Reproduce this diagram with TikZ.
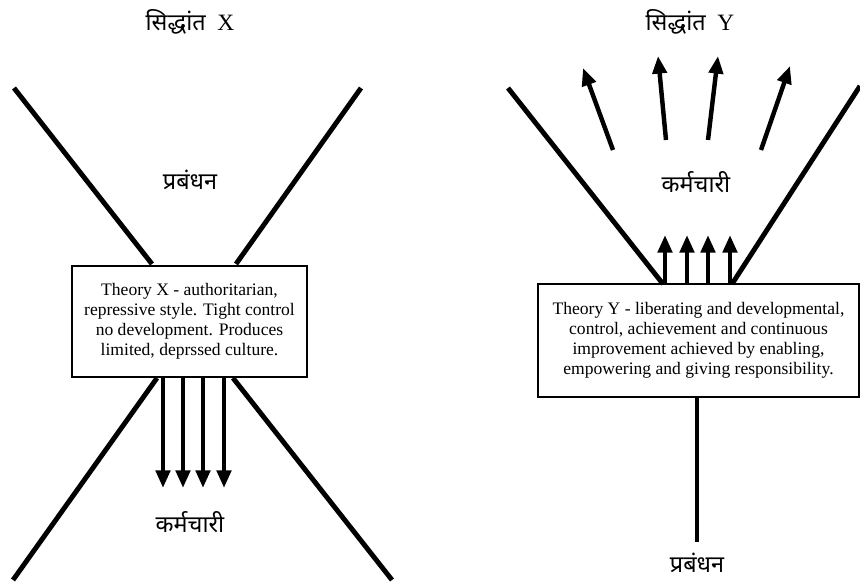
\documentclass[tikz,border=0pt]{standalone}
\usepackage{fontspec}
\setmainfont{Liberation Serif}
\newfontfamily\hindi[Script=Devanagari]{Noto Sans}
\usetikzlibrary{arrows.meta}
\tikzset{
  bar/.style={line width=4.2pt},
  arr/.style={line width=3.8pt,-{Triangle[length=15pt,width=12pt]}},
  theorybox/.style={draw,line width=1.4pt,align=center,inner sep=0pt,
    font=\fontsize{15}{17.2}\selectfont},
  title/.style={font=\fontsize{20}{22}\selectfont},
  hlabel/.style={font=\fontsize{20}{22}\selectfont\hindi},
}
\begin{document}
\begin{tikzpicture}[x=0.03cm,y=-0.03cm]
\useasboundingbox (0,0) rectangle (860,585);

% Theory X
\node[title] (tx) at (190,22) {{\hindi सिद्धांत}\enspace X};
\node[hlabel] (mx) at (190,180) {प्रबंधन};
\node[theorybox,minimum width=7.05cm,minimum height=3.33cm] (bx) at (189.5,321.5)
  {Theory X - authoritarian,\\ repressive style. Tight control\\ no development. Produces\\ limited, deprssed culture.};
\node[hlabel] (ex) at (190,522) {कर्मचारी};

\coordinate (x1) at (14,88);
\coordinate (x2) at (152,264);
\coordinate (x3) at (361,88);
\coordinate (x4) at (236,264);
\coordinate (x5) at (157,378);
\coordinate (x6) at (13,580);
\coordinate (x7) at (233,378);
\coordinate (x8) at (392,580);
\draw[bar] (x1) -- (x2);
\draw[bar] (x3) -- (x4);
\draw[bar] (x5) -- (x6);
\draw[bar] (x7) -- (x8);
\foreach \i/\xx in {1/163,2/183,3/203,4/224} {
  \coordinate (dx\i) at (\xx,488);
  \draw[arr] (bx.south -| dx\i) -- (dx\i);
}

% Theory Y
\node[title] (ty) at (690,22) {{\hindi सिद्धांत}\enspace Y};
\node[hlabel] (ey) at (696,182) {कर्मचारी};
\node[theorybox,minimum width=9.63cm,minimum height=3.39cm] (by) at (698.5,340.5)
  {Theory Y - liberating and developmental,\\ control, achievement and continuous\\ improvement achieved by enabling,\\ empowering and giving responsibility.};
\node[hlabel] (my) at (697,563) {प्रबंधन};

\coordinate (y1) at (508,88);
\coordinate (y2) at (663,284);
\coordinate (y3) at (860,86);
\coordinate (y4) at (732,284);
\coordinate (y5) at (697,542);
\draw[bar] (y1) -- (y2);
\draw[bar] (y3) -- (y4);
\draw[bar] (by.south -| y5) -- (y5);
\foreach \i/\xx in {1/665,2/687,3/708,4/730} {
  \coordinate (uy\i) at (\xx,235);
  \draw[arr] (by.north -| uy\i) -- (uy\i);
}
% fan of arrows
\foreach \i/\ax/\ay/\bx/\by in {1/613/150/583/68,2/666/140/658/56,3/708/140/718/56,4/761/150/790/66} {
  \coordinate (fa\i) at (\ax,\ay);
  \coordinate (fb\i) at (\bx,\by);
  \draw[arr] (fa\i) -- (fb\i);
}
\end{tikzpicture}
\end{document}
